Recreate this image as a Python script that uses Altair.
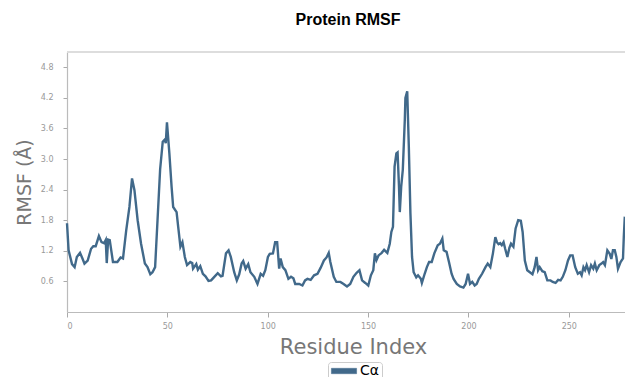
import altair as alt
import pandas as pd

residue_idx = [
    0.0, 0.8, 2.5, 3.8, 4.9, 6.5, 7.7, 8.7, 10.3, 12.0, 13.1, 14.3, 15.9, 17.2, 18.5, 19.3, 19.8, 20.5, 21.3, 22.9,
    25.1, 26.7, 27.9, 29.5, 31.1, 32.4, 33.6, 35.2, 36.9, 38.8, 40.1, 41.5, 42.6, 43.9, 45.1, 46.4, 47.7, 48.7, 49.2, 49.8,
    51.0, 52.1, 52.9, 54.6, 55.4, 56.5, 57.5, 58.7, 59.8, 61.4, 62.4, 62.8, 64.4, 65.2, 66.4, 67.7, 69.0, 70.5, 71.8, 73.4,
    75.1, 76.7, 77.5, 79.2, 80.5, 81.6, 83.3, 84.6, 85.8, 87.0, 87.8, 89.0, 90.3, 91.4, 93.3, 94.9, 96.5, 97.7, 98.8, 100.1,
    101.0, 102.6, 103.7, 104.7, 105.7, 106.4, 107.5, 108.8, 110.3, 111.6, 112.8, 113.7, 115.7, 117.3, 118.6, 119.8, 121.4, 123.1, 124.8, 126.4,
    128.0, 129.3, 130.4, 131.2, 132.9, 134.2, 136.2, 137.8, 139.5, 141.1, 142.7, 144.3, 145.7, 147.0, 148.6, 150.1, 151.4, 152.6, 153.4, 154.2,
    155.2, 156.8, 158.0, 159.6, 160.8, 161.6, 162.4, 163.2, 164.1, 164.7, 165.4, 165.8, 166.5, 167.3, 168.3, 168.6, 169.5, 170.3, 171.1, 171.9,
    172.7, 174.0, 174.9, 176.3, 176.8, 178.2, 179.3, 180.4, 181.7, 183.0, 184.7, 185.8, 187.0, 187.7, 189.1, 190.3, 191.6, 192.6, 194.2, 195.8,
    197.5, 198.6, 199.8, 200.8, 201.9, 203.1, 204.1, 205.2, 206.8, 208.5, 209.6, 210.9, 212.2, 213.4, 214.2, 215.0, 215.8, 216.6, 217.5, 218.3,
    219.4, 220.4, 221.2, 222.4, 223.5, 224.8, 226.1, 227.0, 228.1, 229.3, 230.6, 231.9, 233.0, 233.9, 234.7, 235.5, 236.8, 238.0, 239.3, 240.9,
    242.0, 243.4, 244.7, 245.9, 247.0, 248.3, 249.6, 250.7, 251.9, 253.2, 254.5, 255.6, 256.4, 257.3, 258.1, 258.9, 260.1, 261.1, 262.2, 263.0,
    263.9, 265.2, 266.3, 267.1, 268.0, 269.2, 270.4, 271.2, 272.0, 272.9, 273.7, 274.5, 275.8, 277.0, 277.4, 277.9,
]
rmsf = [
    1.74, 1.21, 0.94, 0.88, 1.08, 1.16, 1.05, 0.95, 1.01, 1.24, 1.29, 1.29, 1.49, 1.37, 1.35, 1.41, 0.96, 1.42, 1.41, 0.98,
    0.98, 1.07, 1.05, 1.60, 2.06, 2.62, 2.39, 1.80, 1.34, 0.95, 0.88, 0.74, 0.78, 0.88, 1.80, 2.80, 3.34, 3.38, 3.31, 3.72,
    3.11, 2.46, 2.06, 1.96, 1.67, 1.28, 1.37, 1.08, 0.92, 0.98, 0.96, 0.85, 0.94, 0.83, 0.90, 0.75, 0.70, 0.61, 0.62, 0.69,
    0.76, 0.70, 0.71, 1.15, 1.21, 1.08, 0.78, 0.62, 0.74, 0.95, 1.00, 0.85, 0.94, 0.78, 0.69, 0.55, 0.75, 0.71, 0.82, 1.08,
    1.14, 1.15, 1.37, 1.37, 0.85, 1.05, 0.88, 0.82, 0.65, 0.69, 0.66, 0.55, 0.55, 0.52, 0.62, 0.65, 0.63, 0.72, 0.75, 0.87,
    1.01, 1.07, 1.16, 0.98, 0.69, 0.59, 0.59, 0.55, 0.50, 0.55, 0.69, 0.77, 0.82, 0.62, 0.57, 0.52, 0.72, 0.82, 1.15, 1.02,
    1.11, 1.16, 1.22, 1.16, 1.34, 1.57, 1.67, 2.85, 3.11, 3.13, 2.46, 1.96, 2.46, 2.79, 3.77, 4.20, 4.33, 3.24, 1.93, 1.08,
    0.78, 0.68, 0.72, 0.65, 0.57, 0.75, 0.88, 0.98, 0.98, 1.15, 1.31, 1.34, 1.44, 1.21, 1.18, 0.98, 0.75, 0.65, 0.55, 0.50,
    0.48, 0.55, 0.75, 0.55, 0.59, 0.52, 0.55, 0.65, 0.75, 0.88, 0.95, 0.88, 1.15, 1.47, 1.37, 1.33, 1.35, 1.31, 1.37, 1.24,
    1.08, 1.26, 1.34, 1.28, 1.64, 1.80, 1.79, 1.57, 1.01, 0.82, 0.78, 0.74, 0.88, 1.08, 0.82, 0.88, 0.80, 0.78, 0.62, 0.62,
    0.59, 0.57, 0.63, 0.62, 0.69, 0.82, 1.01, 1.11, 1.11, 0.88, 0.75, 0.78, 0.72, 0.88, 0.82, 0.92, 0.78, 0.92, 0.85, 0.95,
    0.82, 0.92, 0.95, 0.98, 0.92, 1.21, 1.14, 1.04, 1.21, 1.21, 1.08, 0.85, 0.98, 1.05, 1.47, 1.87,
]
series_name = "Cα"
y_ticks = [0.6, 1.2, 1.8, 2.4, 3.0, 3.6, 4.2, 4.8]
x_ticks = [0, 50, 100, 150, 200, 250]

LINE_COLOR = "#41698a"
W, H = 558, 260

df = pd.DataFrame({"residue": residue_idx, "rmsf": rmsf, "series": [series_name] * len(rmsf)})

line = alt.Chart(df).mark_line(strokeWidth=2.4).encode(
    x=alt.X("residue:Q", scale=alt.Scale(domain=[0, 278], nice=False, zero=False),
            axis=alt.Axis(values=x_ticks, title="Residue Index", grid=False,
                          labelFont="DejaVu Sans", labelFontSize=8, labelColor="#999999",
                          tickColor="#aaaaaa", tickSize=5, labelPadding=5,
                          domainColor="#bbbbbb", domainWidth=1.2,
                          titleFont="DejaVu Sans", titleFontSize=21, titleFontWeight="normal",
                          titleColor="#777777", titleX=286, titleAlign="center",
                          titleY=35, titleBaseline="middle")),
    y=alt.Y("rmsf:Q", scale=alt.Scale(domain=[0, 5.1], nice=False),
            axis=alt.Axis(values=y_ticks, format=".1f", title="RMSF (Å)", grid=False,
                          labelFont="DejaVu Sans", labelFontSize=8, labelColor="#999999",
                          tickColor="#aaaaaa", tickSize=4, labelPadding=10,
                          domainColor="#bbbbbb", domainWidth=1.2,
                          titleFont="DejaVu Sans", titleFontSize=19, titleFontWeight="normal",
                          titleColor="#777777", titleX=-43, titleY=H / 2, titleAngle=-90,
                          titleAlign="center", titleBaseline="middle")),
    color=alt.Color("series:N", scale=alt.Scale(range=[LINE_COLOR]),
                    legend=alt.Legend(title=None, orient="none", legendX=261, legendY=310,
                                      symbolType="M-2.1,-0.45L2.1,-0.45L2.1,0.45L-2.1,0.45Z", symbolSize=144,
                                      symbolOffset=7, symbolFillColor=LINE_COLOR,
                                      symbolStrokeColor=LINE_COLOR, symbolStrokeWidth=0.5,
                                      labelFont="DejaVu Sans", labelFontSize=14,
                                      labelColor="black", labelOffset=9, padding=2,
                                      strokeColor="#cccccc", fillColor="white", cornerRadius=3)),
)

top_border = alt.Chart(df).mark_rule(color="#dddddd", strokeWidth=1.5).encode(
    x=alt.value(0), x2=alt.value(W), y=alt.value(0)
)

chart = alt.layer(top_border, line).properties(
    width=W, height=H,
    title=alt.TitleParams("Protein RMSF", font="Liberation Sans", fontSize=16, fontWeight="bold",
                          color="black", anchor="middle", offset=23, dx=2),
    autosize=alt.AutoSizeParams(type="none"),
    padding={"left": 59, "top": 44, "right": 0, "bottom": 65},
).configure_view(stroke=None)

chart.save("out.html", embed_options={"renderer": "svg", "actions": False})
